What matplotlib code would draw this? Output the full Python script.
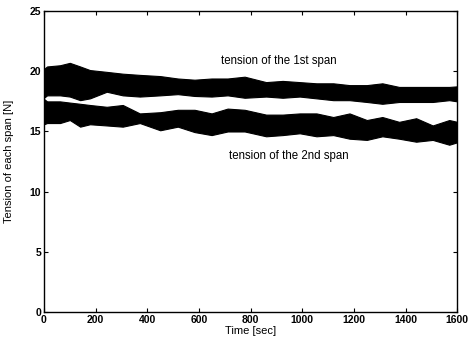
import matplotlib
matplotlib.use('Agg')
import matplotlib.pyplot as plt

plt.rcParams['font.family'] = ['Liberation Sans', 'DejaVu Sans']

# envelope of the 1st span tension band
t1 = [0, 12, 62, 100, 140, 178, 243, 305, 371, 450, 518, 583, 649, 711, 777,
      860, 924, 990, 1055, 1120, 1183, 1250, 1310, 1375, 1441, 1505, 1569, 1600]
up1 = [20.2, 20.4, 20.5, 20.7, 20.4, 20.1, 19.95, 19.8, 19.7, 19.6, 19.4, 19.3, 19.4, 19.4, 19.55,
       19.1, 19.2, 19.1, 19.0, 19.0, 18.85, 18.85, 19.0, 18.7, 18.7, 18.7, 18.7, 18.75]
lo1 = [17.8, 18.0, 18.0, 17.9, 17.6, 17.75, 18.3, 18.0, 17.9, 18.0, 18.1, 17.95, 17.9, 18.0, 17.8,
       17.9, 17.8, 17.9, 17.75, 17.6, 17.6, 17.45, 17.3, 17.45, 17.45, 17.45, 17.6, 17.5]

# envelope of the 2nd span tension band
t2 = [0, 12, 62, 100, 140, 178, 243, 305, 371, 450, 518, 583, 649, 711, 777,
      860, 924, 990, 1055, 1120, 1183, 1250, 1310, 1375, 1441, 1505, 1569, 1600]
up2 = [17.7, 17.5, 17.5, 17.4, 17.3, 17.2, 17.05, 17.2, 16.5, 16.6, 16.8, 16.8, 16.5, 16.9, 16.8,
       16.4, 16.4, 16.5, 16.5, 16.2, 16.5, 15.95, 16.2, 15.8, 16.1, 15.5, 15.95, 15.8]
lo2 = [15.6, 15.7, 15.7, 15.95, 15.4, 15.6, 15.5, 15.4, 15.7, 15.1, 15.4, 14.95, 14.7, 15.0, 15.0,
       14.6, 14.7, 14.85, 14.6, 14.7, 14.4, 14.3, 14.6, 14.4, 14.15, 14.3, 13.9, 14.1]

xticks = [0, 200, 400, 600, 800, 1000, 1200, 1400, 1600]
yticks = [0, 5, 10, 15, 20, 25]

fig = plt.figure(figsize=(4.68, 3.46), dpi=100)
ax = fig.add_axes([0.094, 0.098, 0.883, 0.87])

ax.fill_between(t1, lo1, up1, color='black', linewidth=0.8, edgecolor='black')
ax.fill_between(t2, lo2, up2, color='black', linewidth=0.8, edgecolor='black')

ax.text(908, 20.85, 'tension of the 1st span', fontsize=8.3, ha='center', va='center')
ax.text(947, 13.0, 'tension of the 2nd span', fontsize=8.3, ha='center', va='center')

ax.set_xlim(0, 1600)
ax.set_ylim(0, 25)
ax.set_xticks(xticks)
ax.set_yticks(yticks)
ax.tick_params(direction='in', length=3, width=0.8, top=True, right=True,
               labelsize=7.5, pad=2)
for lab in ax.get_xticklabels() + ax.get_yticklabels():
    lab.set_fontweight('bold')
ax.set_xlabel('Time [sec]', fontsize=8, labelpad=1)
ax.set_ylabel('Tension of each span [N]', fontsize=8)
ax.yaxis.set_label_coords(-0.072, 0.5)
for s in ax.spines.values():
    s.set_linewidth(1.0)

plt.savefig('out.png', dpi=100)
